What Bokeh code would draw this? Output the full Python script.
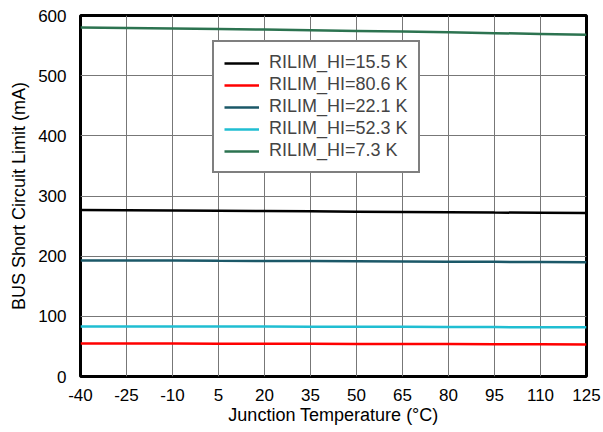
from bokeh.plotting import figure
from bokeh.models import Legend, LegendItem, FixedTicker
from bokeh.embed import file_html
from bokeh.resources import INLINE

temps = [-40, -25, -10, 5, 20, 35, 50, 65, 80, 95, 110, 125]
temp_labels = ["-40", "-25", "-10", "5", "20", "35", "50", "65", "80", "95", "110", "125"]
r15_5 = [276.7, 276.3, 275.9, 275.5, 275.0, 274.5, 274.0, 273.5, 273.0, 272.5, 272.1, 271.7]
r80_6 = [55.0, 54.9, 54.8, 54.6, 54.5, 54.4, 54.2, 54.1, 53.9, 53.7, 53.5, 53.3]
r22_1 = [193.0, 192.8, 192.6, 192.3, 192.1, 191.8, 191.5, 191.2, 190.9, 190.6, 190.3, 190.0]
r52_3 = [83.3, 83.2, 83.1, 83.0, 82.9, 82.8, 82.6, 82.5, 82.3, 82.1, 81.9, 81.7]
r7_3 = [580.0, 579.3, 578.5, 577.6, 576.6, 575.5, 574.4, 573.2, 572.0, 570.7, 569.4, 568.0]

series = [
    ("RILIM_HI=15.5 K", r15_5, "#000000"),
    ("RILIM_HI=80.6 K", r80_6, "#ff0000"),
    ("RILIM_HI=22.1 K", r22_1, "#1b5868"),
    ("RILIM_HI=52.3 K", r52_3, "#20bed2"),
    ("RILIM_HI=7.3 K", r7_3, "#2c7350"),
]

y_ticks = [0, 100, 200, 300, 400, 500, 600]

FONT = "Liberation Sans"

p = figure(width=603, height=432, output_backend="svg", toolbar_location=None,
           x_range=(-40, 125), y_range=(0, 600),
           min_border_left=80, min_border_right=17, min_border_top=15, min_border_bottom=56)

items = []
for name, ys, col in series:
    r = p.line(temps, ys, line_color=col, line_width=2.5)
    items.append(LegendItem(label=name, renderers=[r]))

p.xaxis.ticker = FixedTicker(ticks=temps)
p.xaxis.major_label_overrides = {t: s for t, s in zip(temps, temp_labels)}
p.yaxis.ticker = FixedTicker(ticks=y_ticks)
for ax in (p.xaxis[0], p.yaxis[0]):
    ax.axis_line_color = None
    ax.major_tick_line_color = None
    ax.minor_tick_line_color = None
    ax.major_label_text_font = FONT
    ax.major_label_text_font_size = "17px"
    ax.major_label_text_color = "#000000"
    ax.axis_label_text_font = FONT
    ax.axis_label_text_font_size = "18px"
    ax.axis_label_text_font_style = "normal"
    ax.axis_label_text_color = "#000000"
p.xaxis.axis_label = "Junction Temperature (°C)"
p.yaxis.axis_label = "BUS Short Circuit Limit (mA)"
p.xaxis.major_label_standoff = 6
p.yaxis.major_label_standoff = 8
p.xaxis.axis_label_standoff = 1
p.yaxis.axis_label_standoff = 6

p.xgrid.grid_line_color = "#777777"
p.ygrid.grid_line_color = "#777777"
p.xgrid.grid_line_width = 1
p.ygrid.grid_line_width = 1
p.grid.grid_line_alpha = 1.0

p.outline_line_color = "#000000"
p.outline_line_width = 3
p.outline_line_alpha = 1.0

legend = Legend(items=items, location=(132, 203))
legend.border_line_color = "#000000"
legend.border_line_width = 2.5
legend.label_text_font = FONT
legend.label_text_font_size = "18px"
legend.label_height = 20
legend.glyph_height = 20
legend.glyph_width = 35
legend.spacing = 1
legend.padding = 10
legend.margin = 0
legend.label_standoff = 10
legend.background_fill_alpha = 1.0
p.add_layout(legend, "center")

open("out.html", "w").write(file_html(p, INLINE))
